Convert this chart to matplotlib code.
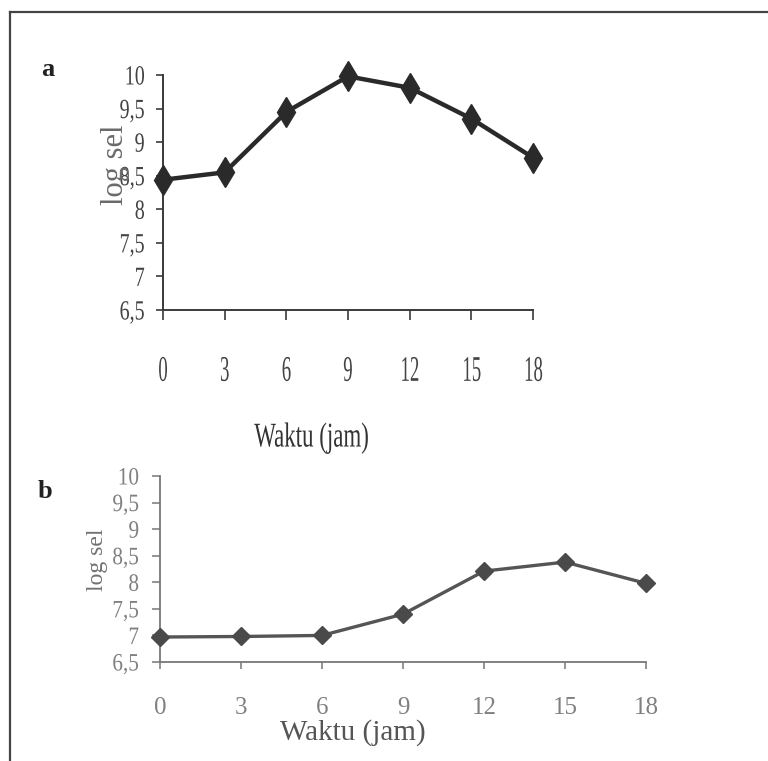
"""Kurva pertumbuhan: log sel terhadap waktu (panel a dan b)."""
import matplotlib
matplotlib.use("Agg")
import matplotlib.pyplot as plt
from matplotlib.patheffects import AbstractPathEffect
from matplotlib.transforms import Affine2D
from matplotlib.lines import Line2D

# data
hours = [0, 3, 6, 9, 12, 15, 18]
log_sel_a = [8.44, 8.55, 9.45, 9.98, 9.81, 9.35, 8.77]
log_sel_b = [6.97, 6.98, 7.00, 7.40, 8.21, 8.38, 7.98]
y_ticks = [6.5, 7, 7.5, 8, 8.5, 9, 9.5, 10]
y_tick_labels = ["6,5", "7", "7,5", "8", "8,5", "9", "9,5", "10"]
x_label = "Waktu (jam)"
y_label = "log sel"

SERIF = ["Liberation Serif", "DejaVu Serif"]


class Squeeze(AbstractPathEffect):
    """Sempitkan teks secara horizontal (teks tetap objek Text)."""

    def __init__(self, sx=0.7, anchor="center"):
        super().__init__()
        self.sx = sx
        self.anchor = anchor

    def draw_path(self, renderer, gc, tpath, affine, rgbFace=None):
        path = affine.transform_path(tpath)
        ext = path.get_extents()
        if self.anchor == "right":
            cx = ext.x1
        elif self.anchor == "left":
            cx = ext.x0
        else:
            cx = ext.x0 + ext.width / 2
        t = Affine2D().translate(-cx, 0).scale(self.sx, 1).translate(cx, 0)
        renderer.draw_path(gc, path, t, rgbFace)


W, H = 768, 761
fig = plt.figure(figsize=(W / 100, H / 100), dpi=100)
fig.patch.set_facecolor("white")

# bingkai
fig.add_artist(Line2D([10 / W, 10 / W], [0, 1 - 12 / H], color="#444444", lw=1.6))
fig.add_artist(Line2D([10 / W, 1], [1 - 12 / H, 1 - 12 / H], color="#444444", lw=1.6))

# ---- panel a ----
ax_a = fig.add_axes([163 / W, 1 - 310 / H, 370 / W, 235 / H])
ax_a.plot(hours, log_sel_a, color="#2a2a2a", lw=3.2, marker="d", ms=15,
          mfc="#2a2a2a", mec="#2a2a2a", clip_on=False, zorder=3)
ax_a.set_xlim(0, 18)
ax_a.set_ylim(6.5, 10)
ax_a.set_xticks(hours)
ax_a.set_xticklabels([str(h) for h in hours])
ax_a.set_yticks(y_ticks)
ax_a.set_yticklabels(y_tick_labels)
for s in ("top", "right"):
    ax_a.spines[s].set_visible(False)
for s in ("left", "bottom"):
    ax_a.spines[s].set_color("#3a3a3a")
    ax_a.spines[s].set_linewidth(1.4)
ax_a.tick_params(axis="x", direction="out", length=7, width=1.2, color="#3a3a3a",
                 pad=26, labelsize=26, labelcolor="#444444")
ax_a.tick_params(axis="y", direction="out", length=5, width=1.2, color="#3a3a3a",
                 pad=8, labelsize=20, labelcolor="#444444")
for lab in ax_a.get_xticklabels():
    lab.set_family(SERIF)
    lab.set_path_effects([Squeeze(0.52, "center")])
for lab in ax_a.get_yticklabels():
    lab.set_family(SERIF)
    lab.set_path_effects([Squeeze(0.72, "right")])

fig.text(116 / W, 1 - 165 / H, y_label, rotation=90, ha="center", va="center",
         fontsize=22, color="#6a6a6a", family=SERIF)
t = fig.text(312 / W, 1 - 438 / H, x_label, ha="center", va="center",
             fontsize=25, color="#333333", family=SERIF)
t.set_path_effects([Squeeze(0.66, "center")])
fig.text(48 / W, 1 - 70 / H, "a", ha="center", va="center", fontsize=19,
         fontweight="bold", color="#222222", family=SERIF)

# ---- panel b ----
ax_b = fig.add_axes([160 / W, 1 - 662 / H, 486 / W, 186 / H])
ax_b.plot(hours, log_sel_b, color="#555555", lw=2.4, marker="D", ms=9,
          mfc="#4a4a4a", mec="#4a4a4a", clip_on=False, zorder=3)
ax_b.set_xlim(0, 18)
ax_b.set_ylim(6.5, 10)
ax_b.set_xticks(hours)
ax_b.set_xticklabels([str(h) for h in hours])
ax_b.set_yticks(y_ticks)
ax_b.set_yticklabels(y_tick_labels)
for s in ("top", "right"):
    ax_b.spines[s].set_visible(False)
for s in ("left", "bottom"):
    ax_b.spines[s].set_color("#777777")
    ax_b.spines[s].set_linewidth(1.3)
ax_b.tick_params(axis="x", direction="out", length=5, width=1.1, color="#777777",
                 pad=20, labelsize=18, labelcolor="#808080")
ax_b.tick_params(axis="y", direction="out", length=6, width=1.1, color="#777777",
                 pad=9, labelsize=18, labelcolor="#808080")
for lab in ax_b.get_xticklabels() + ax_b.get_yticklabels():
    lab.set_family(SERIF)
for lab in ax_b.get_yticklabels():
    lab.set_path_effects([Squeeze(0.85, "right")])

fig.text(97 / W, 1 - 560 / H, y_label, rotation=90, ha="center", va="center",
         fontsize=17, color="#707070", family=SERIF)
fig.text(353 / W, 1 - 733 / H, x_label, ha="center", va="center",
         fontsize=21, color="#555555", family=SERIF)
fig.text(45 / W, 1 - 492 / H, "b", ha="center", va="center", fontsize=19,
         fontweight="bold", color="#222222", family=SERIF)

fig.savefig("out.png", dpi=100, facecolor="white")
plt.close(fig)
